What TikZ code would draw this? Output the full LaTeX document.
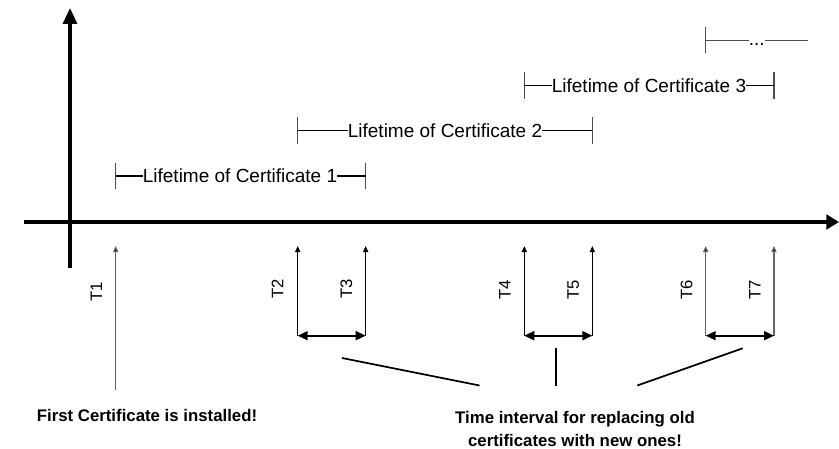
\documentclass[tikz,border=0pt]{standalone}
\usepackage{fontspec}
\setmainfont{Liberation Sans}
\usetikzlibrary{arrows.meta}
\begin{document}
\begin{tikzpicture}[x=0.75pt,y=-0.75pt,
  axis/.style={line width=2.4pt},
  tick/.style={line width=0.8pt, draw=black!70},
  span/.style={line width=0.8pt},
  lt/.style={inner sep=0pt, font=\fontsize{14.25}{17}\selectfont},
  tl/.style={inner sep=0pt, rotate=90, font=\fontsize{12.5}{15}\selectfont},
  marker/.style={line width=0.8pt, -{Triangle[length=4.5pt,width=3.8pt]}},
  graymarker/.style={marker, draw=black!60, -{Triangle[length=4.5pt,width=3.8pt,fill=black]}},
  dbl/.style={line width=1.2pt, {Triangle[length=7.5pt,width=6.8pt]}-{Triangle[length=7.5pt,width=6.8pt]}},
  pointer/.style={line width=1.3pt},
  note/.style={inner sep=0pt, font=\bfseries\fontsize{12.6}{15}\selectfont}]
\useasboundingbox (0,0) rectangle (839,449);

% axes
\coordinate (yb) at (70,268); \coordinate (yt) at (70,8);
\coordinate (xl) at (24,222); \coordinate (xr) at (839,222);
\draw[axis,-{Triangle[length=12pt,width=10.5pt]}] (yb) -- (yt);
\draw[axis,-{Triangle[length=9.5pt,width=11pt]}] (xl) -- (xr);

% lifetime brackets
\node[lt] (c1) at (240,176) {Lifetime of Certificate 1};
\coordinate (c1l) at (115.7,176); \coordinate (c1r) at (365.7,176);
\draw[tick] ([yshift=-10pt]c1l) -- ([yshift=10pt]c1l);
\draw[tick] ([yshift=-10pt]c1r) -- ([yshift=10pt]c1r);
\draw[span] (c1l) -- (c1.west); \draw[span] (c1.east) -- (c1r);

\node[lt] (c2) at (445,130.5) {Lifetime of Certificate 2};
\coordinate (c2l) at (297.7,130.5); \coordinate (c2r) at (592.3,130.5);
\draw[tick] ([yshift=-10pt]c2l) -- ([yshift=10pt]c2l);
\draw[tick] ([yshift=-10pt]c2r) -- ([yshift=10pt]c2r);
\draw[span] (c2l) -- (c2.west); \draw[span] (c2.east) -- (c2r);

\node[lt] (c3) at (649,85.5) {Lifetime of Certificate 3};
\coordinate (c3l) at (524.3,85.5); \coordinate (c3r) at (774,85.5);
\draw[tick] ([yshift=-10pt]c3l) -- ([yshift=10pt]c3l);
\draw[tick] ([yshift=-10pt]c3r) -- ([yshift=10pt]c3r);
\draw[span] (c3l) -- (c3.west); \draw[span] (c3.east) -- (c3r);

\node[lt, anchor=base] (c4) at (756.7,46) {...};
\coordinate (c4l) at (705.7,40.5); \coordinate (c4r) at (808,40.5);
\draw[tick] ([yshift=-9.75pt]c4l) -- ([yshift=9.75pt]c4l);
\draw[span, draw=black!70] (c4l) -- (c4.west |- c4l);
\draw[span, draw=black!70] (c4.east |- c4r) -- (c4r);

% time markers
\coordinate (t1b) at (115.7,390); \coordinate (t1t) at (115.7,246);
\coordinate (t2b) at (297.7,335.7); \coordinate (t2t) at (297.7,246);
\coordinate (t3b) at (365.7,335.7); \coordinate (t3t) at (365.7,246);
\coordinate (t4b) at (524.3,335.7); \coordinate (t4t) at (524.3,246);
\coordinate (t5b) at (592.3,335.7); \coordinate (t5t) at (592.3,246);
\coordinate (t6b) at (705.7,335.7); \coordinate (t6t) at (705.7,246);
\coordinate (t7b) at (774,335.7); \coordinate (t7t) at (774,246);
\draw[graymarker] (t1b) -- (t1t);
\draw[marker] (t2b) -- (t2t);
\draw[marker] (t3b) -- (t3t);
\draw[marker] (t4b) -- (t4t);
\draw[marker] (t5b) -- (t5t);
\draw[graymarker] (t6b) -- (t6t);
\draw[graymarker] (t7b) -- (t7t);
\draw[dbl] (t2b) -- (t3b);
\draw[dbl] (t4b) -- (t5b);
\draw[dbl] (t6b) -- (t7b);

\node[tl] (l1) at (96.5,291.5) {T1};
\node[tl] (l2) at (277.5,289) {T2};
\node[tl] (l3) at (346.5,289) {T3};
\node[tl] (l4) at (505,290) {T4};
\node[tl] (l5) at (573.3,290) {T5};
\node[tl] (l6) at (686.7,290) {T6};
\node[tl] (l7) at (755,290) {T7};

% notes
\node[note, anchor=base] (first) at (147,421) {First Certificate is installed!};
\node[note, anchor=base] (ti1) at (575,423) {Time interval for replacing old};
\node[note, anchor=base] (ti2) at (575,446) {certificates with new ones!};

\coordinate (p1a) at (342,358); \coordinate (p1b) at (479.5,385.5);
\coordinate (p2a) at (556,348.3); \coordinate (p2b) at (556,385.5);
\coordinate (p3a) at (742.7,348.3); \coordinate (p3b) at (637.3,385.5);
\draw[pointer] (p1a) -- (p1b);
\draw[pointer] (p2a) -- (p2b);
\draw[pointer] (p3a) -- (p3b);
\end{tikzpicture}
\end{document}
